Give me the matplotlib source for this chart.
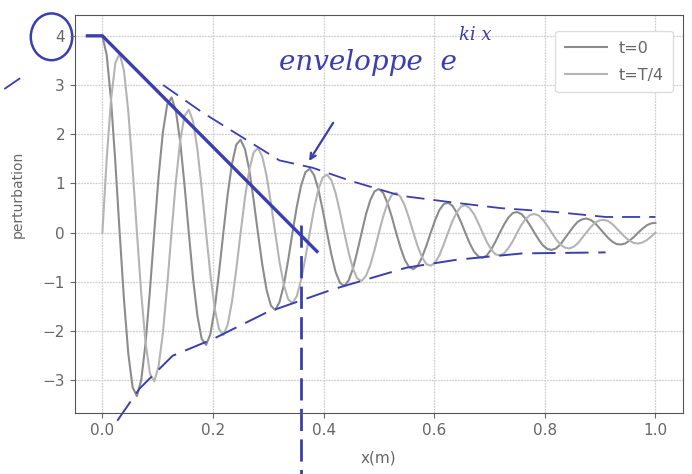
import matplotlib.pyplot as plt
import numpy as np
from matplotlib.patches import Ellipse

# x grid (m), 129 samples from 0 to 1
x = np.linspace(0, 1, 129)

# perturbation at t=0
y_t0 = [4.00, 3.61, 2.70, 1.43, 0, -1.36, -2.46, -3.14, -3.32, -2.99, -2.24, -1.18, 0, 1.13, 2.04, 2.60,
        2.75, 2.48, 1.86, 0.98, 0, -0.94, -1.69, -2.16, -2.28, -2.06, -1.54, -0.81, 0, 0.78, 1.40, 1.79,
        1.89, 1.70, 1.28, 0.67, 0, -0.64, -1.16, -1.48, -1.57, -1.41, -1.06, -0.56, 0, 0.53, 0.96, 1.23,
        1.30, 1.17, 0.88, 0.46, 0, -0.44, -0.80, -1.02, -1.08, -0.97, -0.73, -0.38, 0, 0.37, 0.66, 0.84,
        0.89, 0.81, 0.60, 0.32, 0, -0.30, -0.55, -0.70, -0.74, -0.67, -0.50, -0.26, 0, 0.25, 0.46, 0.58,
        0.61, 0.55, 0.41, 0.22, 0, -0.21, -0.38, -0.48, -0.51, -0.46, -0.34, -0.18, 0, 0.17, 0.31, 0.40,
        0.42, 0.38, 0.28, 0.15, 0, -0.14, -0.26, -0.33, -0.35, -0.32, -0.24, -0.12, 0, 0.12, 0.22, 0.27,
        0.29, 0.26, 0.20, 0.10, 0, -0.10, -0.18, -0.23, -0.24, -0.22, -0.16, -0.09, 0, 0.08, 0.15, 0.19,
        0.20]

# perturbation at t=T/4
y_t4 = [0, 1.50, 2.70, 3.45, 3.64, 3.29, 2.46, 1.30, 0, -1.24, -2.24, -2.86, -3.02, -2.72, -2.04, -1.08,
        0, 1.03, 1.86, 2.37, 2.50, 2.26, 1.69, 0.89, 0, -0.85, -1.54, -1.96, -2.08, -1.87, -1.40, -0.74,
        0, 0.71, 1.28, 1.63, 1.72, 1.55, 1.16, 0.61, 0, -0.59, -1.06, -1.35, -1.43, -1.29, -0.96, -0.51,
        0, 0.49, 0.88, 1.12, 1.18, 1.07, 0.80, 0.42, 0, -0.40, -0.73, -0.93, -0.98, -0.88, -0.66, -0.35,
        0, 0.33, 0.60, 0.77, 0.81, 0.73, 0.55, 0.29, 0, -0.28, -0.50, -0.64, -0.67, -0.61, -0.46, -0.24,
        0, 0.23, 0.41, 0.53, 0.56, 0.50, 0.38, 0.20, 0, -0.19, -0.34, -0.44, -0.46, -0.42, -0.31, -0.17,
        0, 0.16, 0.28, 0.36, 0.38, 0.35, 0.26, 0.14, 0, -0.13, -0.24, -0.30, -0.32, -0.29, -0.22, -0.11,
        0, 0.11, 0.20, 0.25, 0.26, 0.24, 0.18, 0.09, 0, -0.09, -0.16, -0.21, -0.22, -0.20, -0.15, -0.08,
        0]

# hand drawn envelope (blue ink)
env_up_x = [0.11, 0.18, 0.23, 0.32, 0.38, 0.45, 0.54, 0.63, 0.72, 0.82, 0.91, 1.0]
env_up_y = [3.0, 2.45, 2.1, 1.47, 1.32, 1.05, 0.75, 0.62, 0.5, 0.42, 0.32, 0.32]
env_lo_x = [0.027, 0.067, 0.127, 0.2, 0.297, 0.417, 0.55, 0.64, 0.76, 0.91]
env_lo_y = [-3.82, -3.17, -2.5, -2.16, -1.62, -1.15, -0.71, -0.55, -0.42, -0.4]

# hand drawn tangent and marker line
tangent_x = [-0.027, 0.0, 0.388]
tangent_y = [4.0, 4.0, -0.38]
vline_x = 0.36

ink = '#3a3eb0'

fig = plt.figure(figsize=(6.92, 4.74), dpi=100)
ax = fig.add_axes([0.108, 0.129, 0.879, 0.839])

ax.plot(x, y_t0, color='#8c8c8c', lw=1.5, label='t=0')
ax.plot(x, y_t4, color='#b4b4b4', lw=1.5, label='t=T/4')

ax.set_xlim(-0.05, 1.05)
ax.set_ylim(-3.66, 4.42)
ax.set_xticks([0.0, 0.2, 0.4, 0.6, 0.8, 1.0])
ax.set_yticks([-3, -2, -1, 0, 1, 2, 3, 4])
ax.grid(True, color='#cfcfcf', lw=0.9, ls=(0, (1.5, 0.8)))
ax.tick_params(labelsize=11, colors='#666666', labelcolor='#666666')
for s in ax.spines.values():
    s.set_color('#555555')
ax.set_xlabel('x(m)', fontsize=11, color='#666666', labelpad=9)
ax.set_ylabel('perturbation', fontsize=10, color='#666666')
ax.yaxis.set_label_coords(-0.082, 0.55)
leg = ax.legend(loc='upper right', bbox_to_anchor=(0.997, 0.98),
                fontsize=11.5, handlelength=2.6, handletextpad=0.75,
                labelspacing=0.75, borderpad=0.6, labelcolor='#666666',
                framealpha=1, edgecolor='#dddddd')

# annotations
ax.plot(env_up_x, env_up_y, color=ink, lw=1.3, ls=(0, (10, 5)), clip_on=False)
ax.plot(env_lo_x, env_lo_y, color=ink, lw=1.4, ls=(0, (12, 5)), clip_on=False)
ax.plot(tangent_x, tangent_y, color=ink, lw=2.4, clip_on=False)
ax.plot([vline_x, vline_x], [0.16, -4.9], color=ink, lw=2.0,
        ls=(0, (8, 3)), clip_on=False)
ax.annotate('', xy=(0.371, 1.41), xytext=(0.42, 2.28),
            arrowprops=dict(arrowstyle='->', color=ink, lw=1.6))
ax.add_patch(Ellipse((-0.092, 3.98), 0.075, 0.95, fill=False,
                     ec=ink, lw=1.8, clip_on=False))
ax.plot([-0.176, -0.15], [2.93, 3.13], color=ink, lw=1.3, clip_on=False)
ax.text(0.32, 3.45, 'enveloppe  e', fontsize=20, color=ink,
        family='DejaVu Serif', style='italic', va='center')
ax.text(0.645, 4.02, 'ki x', fontsize=13, color=ink,
        family='DejaVu Serif', style='italic', va='center')

fig.savefig('out.png', dpi=100)
